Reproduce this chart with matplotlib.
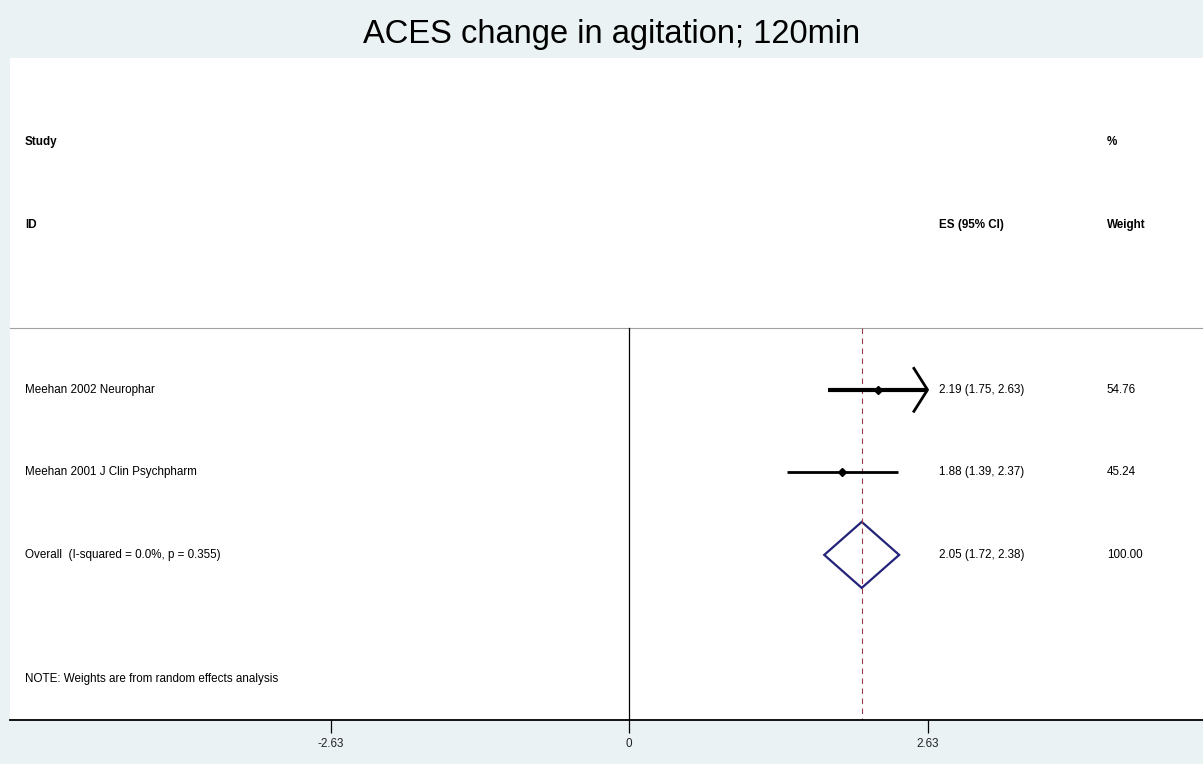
import numpy as np
import matplotlib.pyplot as plt

plt.rcParams['font.family'] = ['Liberation Sans', 'DejaVu Sans']

# data
studies = ["Meehan 2002 Neurophar", "Meehan 2001 J Clin Psychpharm"]
es = [2.19, 1.88]
ci_lo = [1.75, 1.39]
ci_hi = [2.63, 2.37]
weights = [54.76, 45.24]
overall_label = "Overall  (I-squared = 0.0%, p = 0.355)"
overall = [2.05, 1.72, 2.38]
tick_vals = [-2.63, 0, 2.63]
tick_labels = ["-2.63", "0", "2.63"]

bg = '#eaf2f3'
fig = plt.figure(figsize=(12.03, 7.64), dpi=100, facecolor=bg)
ax = fig.add_axes([10/1203, 44/764, 1193/1203, 662/764])
ax.set_facecolor('white')

xmin, xmax = -5.454, 5.057
ax.set_xlim(xmin, xmax)
ax.set_ylim(7.0, -1.02)

x_left = -5.322
x_es = 2.731
x_wt = 4.211
fs = 8.4

# header
ax.text(x_left, 0, "Study", fontsize=fs, va='center', weight='bold')
ax.text(x_left, 1, "ID", fontsize=fs, va='center', weight='bold')
ax.text(x_es, 1, "ES (95% CI)", fontsize=fs, va='center', weight='bold')
ax.text(x_wt, 0, "%", fontsize=fs, va='center', weight='bold')
ax.text(x_wt, 1, "Weight", fontsize=fs, va='center', weight='bold')
ax.axhline(2.25, color='#a0a0a0', lw=0.8)

# null line and overall line
ax.plot([0, 0], [2.25, 7.0], color='black', lw=0.9)
ax.plot([overall[0], overall[0]], [2.25, 7.0], color='#9b3a4a', lw=0.8,
        dashes=(5, 4))

# studies
lws = [3.0, 2.0]
clip = tick_vals[-1]
for i, name in enumerate(studies):
    y = 3 + i
    hi = min(ci_hi[i], clip)
    ax.plot([ci_lo[i], hi], [y, y], color='black', lw=lws[i],
            solid_capstyle='butt')
    if ci_hi[i] >= clip:
        ax.plot([clip - 0.12, clip, clip - 0.12], [y - 0.26, y, y + 0.26],
                color='black', lw=2.0)
    ax.plot(es[i], y, marker='D', color='black', markersize=4)
    ax.text(x_es, y, f"{es[i]:.2f} ({ci_lo[i]:.2f}, {ci_hi[i]:.2f})",
            fontsize=fs, va='center')
    ax.text(x_wt, y, f"{weights[i]:.2f}", fontsize=fs, va='center')
    ax.text(x_left, y, name, fontsize=fs, va='center')

# overall diamond
y = 5
ax.fill([overall[1], overall[0], overall[2], overall[0], overall[1]],
        [y, y - 0.4, y, y + 0.4, y], facecolor='none', edgecolor='#23237a',
        lw=1.6)
ax.text(x_left, y, overall_label, fontsize=fs, va='center')
ax.text(x_es, y, f"{overall[0]:.2f} ({overall[1]:.2f}, {overall[2]:.2f})",
        fontsize=fs, va='center')
ax.text(x_wt, y, f"{sum(weights):.2f}", fontsize=fs, va='center')

ax.text(x_left, 6.5, "NOTE: Weights are from random effects analysis",
        fontsize=fs, va='center')

# axes
for s in ['top', 'left', 'right']:
    ax.spines[s].set_visible(False)
ax.spines['bottom'].set_linewidth(1.3)
ax.set_yticks([])
ax.set_xticks(tick_vals)
ax.set_xticklabels(tick_labels, fontsize=fs, color='#222222')
ax.tick_params(axis='x', length=9, width=0.9, pad=4)

fig.text(0.508, 1 - 34/764, "ACES change in agitation; 120min", fontsize=23.5,
         ha='center', va='center')

fig.savefig('out.png', dpi=100, facecolor=bg)
